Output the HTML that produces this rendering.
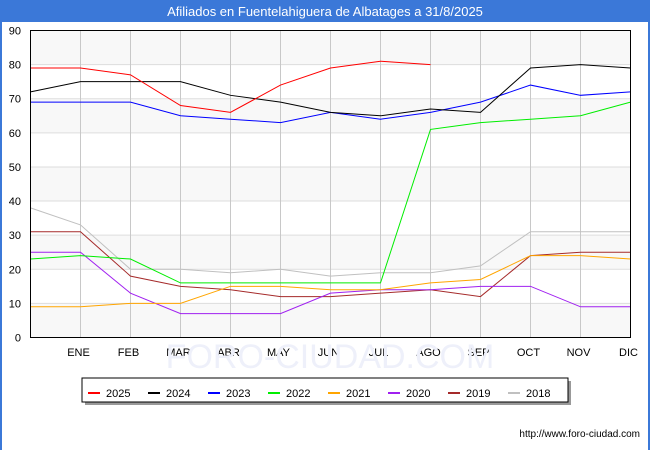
<!DOCTYPE html>
<html><head><meta charset="utf-8"><style>
body{margin:0;width:650px;height:450px;background:#fff;font-family:"Liberation Sans",sans-serif;overflow:hidden}
</style></head><body>
<svg width="650" height="450" xmlns="http://www.w3.org/2000/svg" font-family="Liberation Sans, sans-serif">
<rect x="0" y="0" width="650" height="22" fill="#3b78d8"/>
<text x="325" y="16" text-anchor="middle" font-size="13" fill="#fff">Afiliados en Fuentelahiguera de Albatages a 31/8/2025</text>
<rect x="0" y="22" width="2" height="428" fill="#3b78d8"/><rect x="648" y="22" width="2" height="428" fill="#3b78d8"/>
<g id="grid"></g><g id="series"></g>
<rect x="30.5" y="30.5" width="600" height="307" fill="none" stroke="#000"/>
<text x="330" y="368" text-anchor="middle" font-size="34" fill="#eef0fa">FORO-CIUDAD.COM</text>
<rect x="85" y="381" width="486" height="24" fill="#999"/>
<rect x="82" y="378" width="486" height="24" fill="#fff" stroke="#000"/>
<g id="legend"></g>
<text x="640" y="437" text-anchor="end" font-size="10" fill="#000">http://www.foro-ciudad.com</text>
</svg>
<script>
const months=["","ENE","FEB","MAR","ABR","MAY","JUN","JUL","AGO","SEP","OCT","NOV","DIC"];
const yTicks=[0,10,20,30,40,50,60,70,80,90];
const names=["2025","2024","2023","2022","2021","2020","2019","2018"];
const colors=["#ff0000","#000000","#0000ff","#00ee00","#ffa500","#a020f0","#a52a2a","#c0c0c0"];
const s2025=[79,79,77,68,66,74,79,81,80];
const s2024=[72,75,75,75,71,69,66,65,67,66,79,80,79];
const s2023=[69,69,69,65,64,63,66,64,66,69,74,71,72];
const s2022=[23,24,23,16,16,16,16,16,61,63,64,65,69];
const s2021=[9,9,10,10,15,15,14,14,16,17,24,24,23];
const s2020=[25,25,13,7,7,7,13,14,14,15,15,9,9];
const s2019=[31,31,18,15,14,12,12,13,14,12,24,25,25];
const s2018=[38,33,20,20,19,20,18,19,19,21,31,31,31];
const series=[s2025,s2024,s2023,s2022,s2021,s2020,s2019,s2018];
const NS="http://www.w3.org/2000/svg";
const x=i=>30.5+i*50, y=v=>337.5-v*(307/90);
function mk(t,a,p){const e=document.createElementNS(NS,t);for(const k in a)e.setAttribute(k,a[k]);p.appendChild(e);return e;}
const g=document.getElementById('grid');
for(let k=0;k<9;k++){if(k%2==0){const r=mk('rect',{x:30.5,y:y(yTicks[k+1]),width:600,height:y(yTicks[k])-y(yTicks[k+1]),fill:'#f8f8f8'},g);

}}
yTicks.forEach(v=>{const l=mk('line',{x1:30.5,x2:630.5,y1:y(v),y2:y(v),stroke:'#ddd'},g);


const t=mk('text',{x:21,y:y(v)+4,'text-anchor':'end','font-size':11},g);t.textContent=v;

});
months.forEach((m,i)=>{if(i==0)return;const l=mk('line',{x1:x(i),x2:x(i),y1:30.5,y2:337.5,stroke:'#c8c8c8'},g);


const t=mk('text',{x:x(i)-2,y:356,'text-anchor':'middle','font-size':11},g);t.textContent=m;

});
const sg=document.getElementById('series');
for(let s=series.length-1;s>=0;s--){const p=mk('polyline',{points:series[s].map((v,i)=>x(i)+','+y(v)).join(' '),fill:'none',stroke:colors[s],'stroke-width':1},sg);

}
const lg=document.getElementById('legend');
names.forEach((n,i)=>{const lx=88+i*60;const l=mk('line',{x1:lx,x2:lx+12,y1:393,y2:393,stroke:colors[i],'stroke-width':2},lg);


const t=mk('text',{x:lx+18,y:397,'font-size':11},lg);t.textContent=n;

});
</script>
</body></html>
